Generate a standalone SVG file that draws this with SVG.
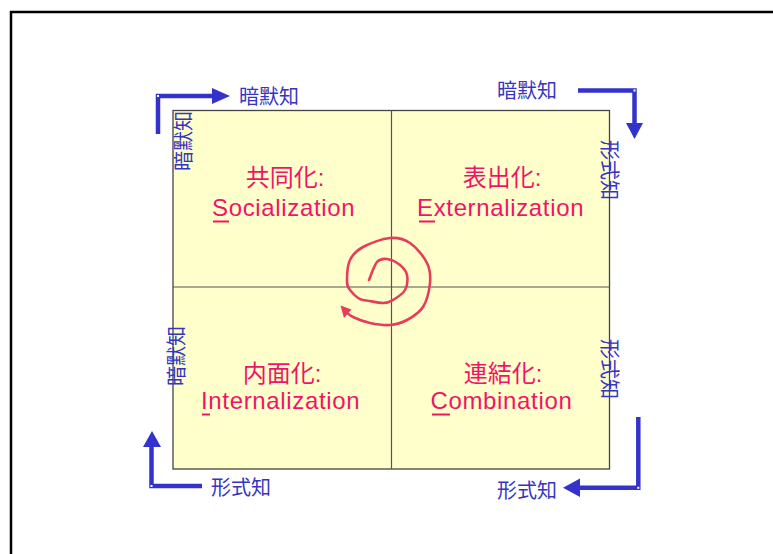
<svg xmlns="http://www.w3.org/2000/svg" width="773" height="554" viewBox="0 0 773 554">
<style>
.frame{fill:none;stroke:#000;stroke-width:2.5}
.quad{fill:#FFFFCC;stroke:#444;stroke-width:1.3}
.div{stroke:#555;stroke-width:1.2}
.qt{font-family:"Liberation Sans","Noto Sans CJK JP",sans-serif;font-size:24px;fill:#F01468;text-anchor:middle}
.qe{font-family:"Liberation Sans",sans-serif;font-size:24px;fill:#F01468;letter-spacing:0.65px}
.ul{stroke:#F01468;stroke-width:2}
.lab{font-family:"Liberation Sans","Noto Sans CJK JP",sans-serif;font-size:20px;fill:#3535C0}
.rl{font-family:"Liberation Sans","Noto Sans CJK JP",sans-serif;font-size:20px;fill:#3535C0;text-anchor:middle}
.arr{fill:none;stroke:#3333CC;stroke-width:4.5;stroke-linejoin:miter}
.ah{fill:#3333CC}
.dot{fill:#fff}
.spiral{fill:none;stroke:#E83C5C;stroke-width:2.6;stroke-linecap:round;stroke-linejoin:round}
</style>
<rect x="0" y="0" width="773" height="554" fill="#fff"/>
<rect class="frame" x="11" y="12" width="800" height="600"/>

<g id="matrix">
<rect class="quad" x="173" y="110.5" width="436.5" height="358.5"/>
<line class="div" x1="391.5" y1="110.5" x2="391.5" y2="469"/>
<line class="div" x1="173" y1="287" x2="609.5" y2="287"/>
</g>

<g id="socialization">
<text class="qt" x="285" y="186">共同化:</text>
<text class="qe" x="212" y="216">Socialization</text>
<line class="ul" x1="213" y1="221.5" x2="229" y2="221.5"/>
</g>
<g id="externalization">
<text class="qt" x="502" y="186">表出化:</text>
<text class="qe" x="417" y="216">Externalization</text>
<line class="ul" x1="419" y1="221.5" x2="435" y2="221.5"/>
</g>
<g id="internalization">
<text class="qt" x="282" y="382">内面化:</text>
<text class="qe" x="201" y="409">Internalization</text>
<line class="ul" x1="202" y1="414.5" x2="210" y2="414.5"/>
</g>
<g id="combination">
<text class="qt" x="503" y="382">連結化:</text>
<text class="qe" x="430.5" y="409">Combination</text>
<line class="ul" x1="432" y1="414.5" x2="450" y2="414.5"/>
</g>

<g id="side-labels">
<text class="rl" transform="translate(190.5,141) rotate(-90)">暗默知</text>
<text class="rl" transform="translate(183.5,356) rotate(-90)">暗默知</text>
<text class="rl" transform="translate(601.5,170) rotate(90)">形式知</text>
<text class="rl" transform="translate(601.5,369) rotate(90)">形式知</text>
</g>

<g id="connectors">
<g id="arrow-top-left">
<polyline class="arr" points="158,134 158,96 214,96"/>
<polygon class="ah" points="212,88 230,96 212,104"/>
<rect class="dot" x="157" y="95" width="2" height="2"/>
<text class="lab" x="239" y="103.5">暗默知</text>
</g>
<g id="arrow-top-right">
<polyline class="arr" points="578,90.5 634.5,90.5 634.5,125"/>
<polygon class="ah" points="626,123 634.5,139 643,123"/>
<rect class="dot" x="633.5" y="89.5" width="2" height="2"/>
<text class="lab" x="497" y="97.5">暗默知</text>
</g>
<g id="arrow-bottom-left">
<polyline class="arr" points="202,486 151.5,486 151.5,445"/>
<polygon class="ah" points="143,447 152,431 161,447"/>
<rect class="dot" x="150.5" y="485" width="2" height="2"/>
<text class="lab" x="211" y="495">形式知</text>
</g>
<g id="arrow-bottom-right">
<polyline class="arr" points="638.3,417 638.3,487.8 578,487.8"/>
<polygon class="ah" points="580,478.5 563,487.8 580,497"/>
<rect class="dot" x="637.3" y="486.8" width="2" height="2"/>
<text class="lab" x="497" y="498">形式知</text>
</g>
<g id="spiral">
<path class="spiral" d="M369,280 C370.3,277 374,265.5 377,262 C380,258.5 383.2,258.5 387,259 C390.8,259.5 396.7,262.3 400,265 C403.3,267.7 406.2,270.8 407,275 C407.8,279.2 407.3,285.8 405,290 C402.7,294.2 396.7,297.8 393,300 C389.3,302.2 388,303 383,303 C378,303 368.5,300.5 363,300 C357.5,299.5 352.7,293.3 350,290 C347.3,286.7 347,285 347,280 C347,275 347.3,265.5 350,260 C352.7,254.5 356.3,250.7 363,247 C369.7,243.3 382.2,238.7 390,238 C397.8,237.3 403.8,238.8 410,243 C416.2,247.2 423.7,256.3 427,263 C430.3,269.7 430.7,275.7 430,283 C429.3,290.3 426.8,300.8 423,307 C419.2,313.2 412.5,317 407,320 C401.5,323 396.2,324.5 390,325 C383.8,325.5 376.2,324.3 370,323 C363.8,321.7 357.2,319 353,317 C348.8,315 346.3,312 345,311"/>
<polygon fill="#E83C5C" points="340.5,305.5 351.5,309.5 344,318"/>
</g>
</g>
</svg>
